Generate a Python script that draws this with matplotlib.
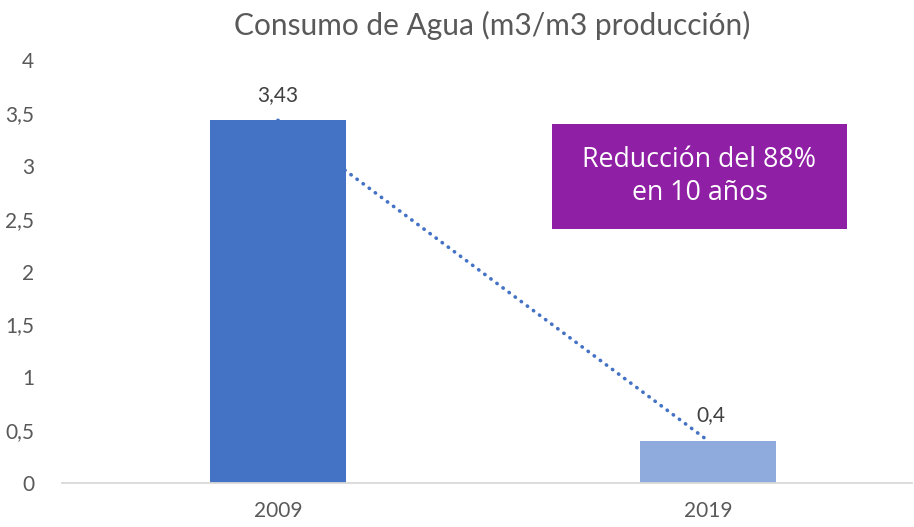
import matplotlib
matplotlib.use("Agg")
import matplotlib.pyplot as plt
from matplotlib.patches import Rectangle

categories = ["2009", "2019"]
values = [3.43, 0.4]
value_labels = ["3,43", "0,4"]
bar_colors = ["#4472C4", "#8FAADC"]
yticks = [0, 0.5, 1, 1.5, 2, 2.5, 3, 3.5, 4]
ytick_labels = ["0", "0,5", "1", "1,5", "2", "2,5", "3", "3,5", "4"]
title = "Consumo de Agua (m3/m3 producción)"
box_text = "Reducción del 88%\nen 10 años"

W, H = 914, 527
fig = plt.figure(figsize=(W / 100, H / 100), dpi=100)
ax = fig.add_axes([62 / W, 1 - 483 / H, (912 - 62) / W, (483 - 60) / H])

font = ["Lato", "DejaVu Sans"]
gray = "#595959"
x = list(range(len(categories)))

ax.plot(x, values, linestyle=(0, (0.1, 2.0)), dash_capstyle="round",
        color="#4472C4", linewidth=2.6, zorder=1)
ax.bar(x, values, width=0.316, color=bar_colors, zorder=2)

for xi, v, lab in zip(x, values, value_labels):
    ax.annotate(lab, (xi, v), xytext=(2 if xi else 0, 11), textcoords="offset points",
                ha="center", va="bottom", fontsize=15, color="#404040", family=font)

ax.set_xlim(-0.502, 1.474)
ax.set_ylim(0, 4)
ax.set_yticks(yticks)
ax.set_yticklabels(ytick_labels, family=font, fontsize=15, color=gray)
ax.set_xticks(x)
ax.set_xticklabels(categories, family=font, fontsize=15, color=gray)
ax.tick_params(axis="y", length=0, pad=20)
ax.tick_params(axis="x", length=0, pad=13)
for s in ["top", "right", "left"]:
    ax.spines[s].set_visible(False)
ax.spines["bottom"].set_color("#D9D9D9")
ax.spines["bottom"].set_linewidth(1.3)

fig.text(492 / W, 1 - 25 / H, title, ha="center", va="center",
         fontsize=21.5, color=gray, family=font)

# annotation box
bx0, by0, bx1, by1 = 552, 124, 847, 229
fig.patches.append(Rectangle((bx0 / W, 1 - by1 / H), (bx1 - bx0) / W, (by1 - by0) / H,
                             transform=fig.transFigure, facecolor="#8F1FA4",
                             edgecolor="none", zorder=3))
fig.text((bx0 + bx1) / 2 / W, 1 - (by0 + by1) / 2 / H, box_text, ha="center", va="center",
         fontsize=19.3, color="white", family=["Open Sans", "DejaVu Sans"],
         linespacing=1.2, zorder=4)

fig.savefig("out.png", dpi=100)
